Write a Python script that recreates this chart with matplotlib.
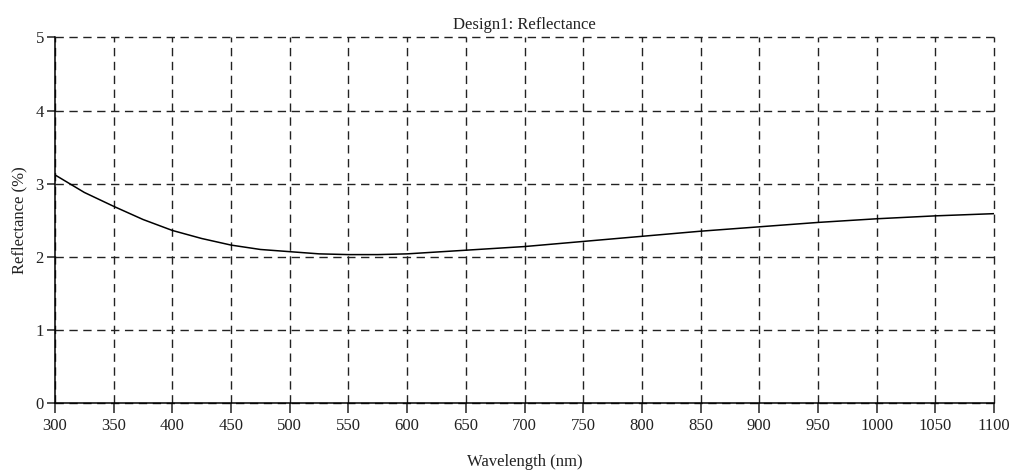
import numpy as np
import matplotlib
matplotlib.use('Agg')
from matplotlib import pyplot as plt

plt.rcParams['font.family'] = ['Liberation Serif', 'DejaVu Serif']

# reflectance (denser where it bends)
wavelength = [300, 325, 350, 375, 400, 425, 450, 475, 500, 525, 550, 575, 600,
              650, 700, 750, 800, 850, 900, 950, 1000, 1050, 1100]
reflectance = [3.12, 2.88, 2.69, 2.51, 2.36, 2.25, 2.16, 2.10, 2.07, 2.04, 2.03, 2.03, 2.04,
               2.09, 2.14, 2.21, 2.28, 2.35, 2.41, 2.47, 2.52, 2.56, 2.59]
xticks = list(range(300, 1101, 50))
yticks = [0, 1, 2, 3, 4, 5]

fig = plt.figure(figsize=(10.13, 4.72), dpi=100)
ax = fig.add_axes([0.0543, 0.1462, 0.9270, 0.7744])

ax.plot(wavelength, reflectance, color='black', lw=1.1)

ax.set_xlim(300, 1100)
ax.set_ylim(0, 5)
ax.set_xticks(xticks)
ax.set_yticks(yticks)
ax.grid(True, color='#222222', ls=(0, (6, 4)), lw=1.0)
ax.set_axisbelow(True)
for gl in ax.get_xgridlines() + ax.get_ygridlines():
    gl.set_clip_on(False)

for s in ['top', 'right']:
    ax.spines[s].set_visible(False)
for s in ['left', 'bottom']:
    ax.spines[s].set_linewidth(1.1)
ax.tick_params(direction='out', length=7, width=1.1, labelsize=12, colors='#222222')
ax.tick_params(axis='x', pad=4)
ax.tick_params(axis='y', pad=2, length=6)

ax.set_title('Design1: Reflectance', fontsize=12, color='#222222', pad=6)
ax.set_xlabel('Wavelength (nm)', fontsize=12, color='#222222', labelpad=14)
ax.set_ylabel('Reflectance (%)', fontsize=12, color='#222222', labelpad=6)

fig.savefig('out.png', dpi=100)
